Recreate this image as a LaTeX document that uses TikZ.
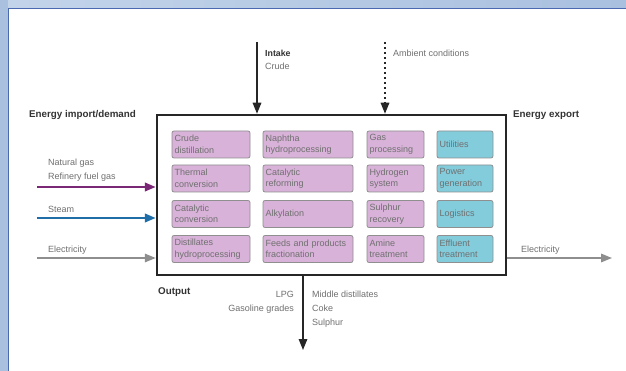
\documentclass[tikz,border=0pt]{standalone}
\usepackage{fontspec}
\setmainfont{Liberation Sans}
\usetikzlibrary{arrows.meta}
\definecolor{bandblue}{HTML}{A9C0DF}
\definecolor{bandlight}{HTML}{C3D4EA}
\definecolor{lineblue}{HTML}{4A69AE}
\definecolor{procpink}{HTML}{D8B2D8}
\definecolor{utilcyan}{HTML}{82CCDC}
\definecolor{boxedge}{HTML}{8F8F8F}
\definecolor{labelgrey}{HTML}{707070}
\definecolor{gasviolet}{HTML}{7A2775}
\definecolor{steamblue}{HTML}{1F6EA8}
\definecolor{elecgrey}{HTML}{8E8E8E}
\tikzset{
  proc/.style={draw=boxedge, line width=0.8pt, rounded corners=2pt, fill=procpink,
    align=left, inner sep=2.5pt, font=\fontsize{9}{11.5}\selectfont, text=labelgrey,
    minimum height=27pt, anchor=center},
  util/.style={proc, fill=utilcyan},
  lbl/.style={font=\fontsize{9}{14}\selectfont, text=labelgrey, inner sep=0pt},
  head/.style={font=\bfseries\fontsize{9.8}{11}\selectfont, text=black!80, inner sep=0pt},
  tip/.style={-{Triangle[length=11pt,width=8.5pt]}},
}
\begin{document}
\begin{tikzpicture}[x=1pt,y=-1pt]
\useasboundingbox (0,0) rectangle (626,371);
% frame
\fill[white] (0,0) rectangle (626,371);
\shade[left color=bandlight, right color=bandblue] (0,0) rectangle (626,8);
\fill[bandblue] (0,0) rectangle (8,371);
\draw[lineblue, line width=1.6pt] (8.6,371) -- (8.6,8.6) -- (626,8.6);
% main box
\node[draw=black!85, line width=2.5pt, minimum width=349pt, minimum height=160pt, inner sep=0pt] (main) at (331.5,195) {};
% process boxes
\node[proc, text width=73pt] (b11) at (211,144.5) {Crude\\distillation};
\node[proc, text width=85pt] (b12) at (308,144.5) {Naphtha\\hydroprocessing};
\node[proc, text width=52pt] (b13) at (395.5,144.5) {Gas\\processing};
\node[util, text width=51pt] (b14) at (465,144.5) {Utilities};
\node[proc, text width=73pt] (b21) at (211,178.5) {Thermal\\conversion};
\node[proc, text width=85pt] (b22) at (308,178.5) {Catalytic\\reforming};
\node[proc, text width=52pt] (b23) at (395.5,178.5) {Hydrogen\\system};
\node[util, text width=51pt] (b24) at (465,178.5) {Power\\generation};
\node[proc, text width=73pt] (b31) at (211,214) {Catalytic\\conversion};
\node[proc, text width=85pt] (b32) at (308,214) {Alkylation};
\node[proc, text width=52pt] (b33) at (395.5,214) {Sulphur\\recovery};
\node[util, text width=51pt] (b34) at (465,214) {Logistics};
\node[proc, text width=73pt] (b41) at (211,249) {Distillates\\hydroprocessing};
\node[proc, text width=85pt] (b42) at (308,249) {Feeds and products\\fractionation};
\node[proc, text width=52pt] (b43) at (395.5,249) {Amine\\treatment};
\node[util, text width=51pt] (b44) at (465,249) {Effluent\\treatment};
% headings
\node[head, anchor=west] (himp) at (29,115) {Energy import/demand};
\node[head, anchor=west] (hexp) at (513,115) {Energy export};
\node[head, anchor=west] (hout) at (158,292) {Output};
% top inputs
\coordinate (intake) at (257,42);
\coordinate (ambient) at (385,42);
\draw[line width=1.5pt, black!85, tip] (intake) -- (intake |- main.north);
\draw[line width=2.2pt, black!85, dash pattern=on 2.5pt off 2.5pt] (ambient) -- ([yshift=8pt]ambient |- main.north);
\draw[line width=1.5pt, black!85, tip] ([yshift=9pt]ambient |- main.north) -- (ambient |- main.north);
\node[head, anchor=west, font=\bfseries\fontsize{8.8}{10}\selectfont] (lint) at (265,53) {Intake};
\node[lbl, anchor=west] (lcrude) at (265,66) {Crude};
\node[lbl, anchor=west] (lamb) at (393,53) {Ambient conditions};
% left inputs
\coordinate (gas) at (37,187);
\coordinate (steam) at (37,218);
\coordinate (elin) at (37,258);
\draw[gasviolet, line width=2.4pt, tip] (gas) -- (gas -| main.west);
\draw[steamblue, line width=2.4pt, tip] (steam) -- (steam -| main.west);
\draw[elecgrey, line width=1.6pt, tip] (elin) -- (elin -| main.west);
\node[lbl, anchor=west, align=left] (lgas) at (48,170) {Natural gas\\Refinery fuel gas};
\node[lbl, anchor=west] (lsteam) at (48,209) {Steam};
\node[lbl, anchor=west] (lelin) at (48,250) {Electricity};
% right output
\coordinate (elout) at (612,258);
\draw[elecgrey, line width=1.6pt, tip] (elout -| main.east) -- (elout);
\node[lbl, anchor=west] (lelout) at (521,250) {Electricity};
% bottom output
\coordinate (outend) at (303,350);
\draw[line width=1.5pt, black!85, tip] (outend |- main.south) -- (outend);
\node[lbl, anchor=north east, align=right] (lleft) at (294,291) {LPG\\Gasoline grades};
\node[lbl, anchor=north west, align=left] (lright) at (312,291) {Middle distillates\\Coke\\Sulphur};
\end{tikzpicture}
\end{document}
